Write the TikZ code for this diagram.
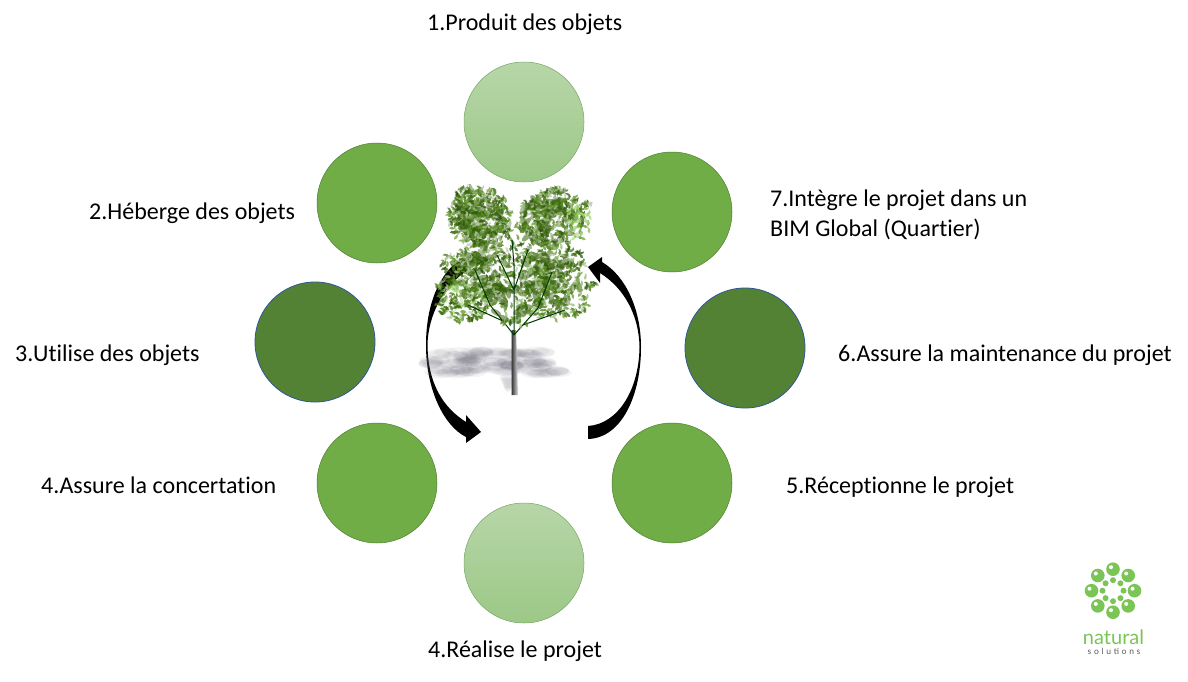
\documentclass[tikz,border=0pt]{standalone}
\usepackage{fontspec}
\setmainfont{Carlito}[Ligatures=CommonOff]
\newfontfamily\logofont{Lato}
\newfontfamily\logospaced{Lato}[LetterSpace=32]
\definecolor{midg}{HTML}{70AD47}
\definecolor{midb}{HTML}{507E32}
\definecolor{darkg}{HTML}{548235}
\definecolor{darkb}{HTML}{2F5597}
\definecolor{lightt}{HTML}{B7D6A8}
\definecolor{lightb}{HTML}{9CC887}
\definecolor{logog}{HTML}{7AC556}
\definecolor{shadowc}{HTML}{6E6C7C}
\definecolor{leafbase}{HTML}{35610C}
\tikzset{
  x=1pt,y=-1pt,
  role/.style={circle,minimum size=120pt,inner sep=0pt,draw=midb,line width=.5pt,fill=midg},
  roledark/.style={role,fill=darkg,draw=darkb,line width=.8pt},
  rolelight/.style={role,draw=lightb!85!black,top color=lightt,bottom color=lightb},
  lab/.style={anchor=base west,inner sep=0pt,font=\fontsize{24}{28}\selectfont,text=black},
  orb/.style={fill=logog,draw=none},
}
% #1 centre x, #2 y, #3 rx, #4 ry, #5 clumps, #6 palette: 0 normal, 1 bright
\newcommand{\leafcloud}[6]{%
  \foreach \i in {1,...,#5}{%
    \pgfmathsetmacro{\ang}{rnd*360}%
    \pgfmathsetmacro{\rad}{sqrt(rnd)}%
    \pgfmathsetmacro{\lx}{#1+#3*\rad*cos(\ang)}%
    \pgfmathsetmacro{\ly}{#2+#4*\rad*sin(\ang)}%
    \pgfmathsetmacro{\rot}{rnd*180}%
    \pgfmathtruncatemacro{\pick}{int(rnd*8)}%
    \ifnum#6=1
      \ifcase\pick\def\lc{A8DC78}\or\def\lc{C4E8A0}\or\def\lc{8CC850}\or\def\lc{6FA838}\or\def\lc{D4ECC0}\or\def\lc{88B860}\or\def\lc{A8DC78}\else\def\lc{5F9428}\fi
    \else
      \ifcase\pick\def\lc{3A660E}\or\def\lc{2C5408}\or\def\lc{4F7E1E}\or\def\lc{6E9E38}\or\def\lc{94BC70}\or\def\lc{3F6E12}\or\def\lc{BCC9B2}\else\def\lc{5F8F28}\fi
    \fi
    \definecolor{leafc}{HTML}{\lc}%
    \fill[leafc,opacity=.75,rotate around={\rot:(\lx,\ly)}]
      (\lx-3.4,\ly) -- (\lx-1,\ly-1.5) -- (\lx+.6,\ly-.6) -- (\lx+3.2,\ly-1) -- (\lx+2,\ly+1) -- (\lx-.8,\ly+1.4) -- cycle;
  }%
}
% darker, larger patches under the leaves
\newcommand{\leafbed}[5]{%
  \foreach \i in {1,...,#5}{%
    \pgfmathsetmacro{\ang}{rnd*360}%
    \pgfmathsetmacro{\rad}{sqrt(rnd)}%
    \pgfmathsetmacro{\lx}{#1+#3*\rad*cos(\ang)}%
    \pgfmathsetmacro{\ly}{#2+#4*\rad*sin(\ang)}%
    \pgfmathsetmacro{\rot}{rnd*180}%
    \fill[leafbase,opacity=.55] (\lx,\ly) ellipse [x radius=6,y radius=2.6,rotate=\rot];
  }%
}
\newcommand{\shadowcloud}[5]{%
  \foreach \i in {1,...,#5}{%
    \pgfmathsetmacro{\lx}{#1+#3*(2*rnd-1)}%
    \pgfmathsetmacro{\ly}{#2+#4*(2*rnd-1)}%
    \fill[shadowc,opacity=.07] (\lx,\ly) ellipse [x radius=12,y radius=4.5];
  }%
}
\begin{document}
\begin{tikzpicture}
\useasboundingbox (0,0) rectangle (1188,682);
\fill[white] (0,0) rectangle (1188,682);

% circles
\node[rolelight] (c1) at (524,122) {};
\node[role] (c2) at (377,203) {};
\node[roledark] (c3) at (315,342) {};
\node[role] (c4) at (377,483) {};
\node[rolelight] (c5) at (524,563) {};
\node[role] (c6) at (672,483) {};
\node[roledark] (c7) at (745,348) {};
\node[role] (c8) at (672,212) {};

% labels
\node[lab] (t1) at (427,31) {1.Produit des objets};
\node[lab] (t2) at (89,219) {2.Héberge des objets};
\node[lab] (t3) at (15,361) {3.Utilise des objets};
\node[lab] (t4) at (41,493) {4.Assure la concertation};
\node[lab] (t5) at (428,657) {4.Réalise le projet};
\node[lab] (t6) at (786,493) {5.Réceptionne le projet};
\node[lab] (t7) at (838,361) {6.Assure la maintenance du projet};
\node[lab] (t8a) at (770,206.5) {7.Intègre le projet dans un};
\node[lab] (t8b) at (770,236) {BIM Global (Quartier)};

% cycle arrows
\fill[black] (458,261) .. controls (436,278) and (426,310) .. (426,345)
  .. controls (426,390) and (444,426) .. (466,437) -- (466,443) -- (481,432) -- (466,415) -- (466,422)
  .. controls (444,408) and (428,385) .. (427.5,345)
  .. controls (428,315) and (444,285) .. (468,270) -- cycle;
\fill[black] (588,426) .. controls (618,424) and (639,390) .. (639.5,347)
  .. controls (639,315) and (624,288) .. (600,273) -- (600,283) -- (588,267) -- (602,257) -- (602,262)
  .. controls (626,276) and (641,310) .. (641,347)
  .. controls (641,395) and (622,438) .. (588,439) -- cycle;

% tree shadow
\pgfmathsetseed{77}
\shadowcloud{470}{354}{34}{3}{22}
\shadowcloud{456}{362}{26}{4}{26}
\shadowcloud{458}{371}{22}{3}{20}
\shadowcloud{530}{354}{22}{3}{16}
\shadowcloud{530}{364}{24}{4}{24}
\shadowcloud{545}{372}{16}{2}{12}
\shadowcloud{505}{366}{14}{6}{16}
\foreach \i in {1,...,8}{\fill[shadowc,opacity=.09] (508,376+\i*1.6) ellipse [x radius=9-\i*.7,y radius=3];}

% tree trunk
\shade[left color=black!80,right color=black!12] (511.5,330) -- (516,330) -- (518,395) -- (511.5,395) -- cycle;

% tree foliage
\pgfmathsetseed{4217}
\leafbed{482}{222}{26}{28}{70}
\leafbed{548}{222}{26}{28}{60}
\leafbed{480}{275}{32}{24}{60}
\leafbed{548}{280}{32}{26}{70}
\leafbed{514}{300}{22}{22}{25}
\leafcloud{480}{217}{32}{30}{300}{0}
\leafcloud{468}{196}{12}{10}{50}{0}
\leafcloud{552}{217}{32}{30}{260}{0}
\leafcloud{555}{197}{12}{10}{40}{0}
\leafcloud{587}{204}{4}{3}{7}{0}
\leafcloud{515}{240}{18}{22}{50}{0}
\leafcloud{578}{222}{13}{18}{45}{1}
\leafcloud{478}{268}{38}{24}{220}{0}
\leafcloud{463}{302}{26}{18}{60}{1}
\leafcloud{463}{303}{28}{19}{110}{0}
\leafcloud{552}{268}{36}{28}{210}{0}
\leafcloud{555}{302}{34}{18}{130}{0}
\leafcloud{512}{300}{20}{22}{40}{0}
\leafcloud{443}{285}{8}{5}{14}{0}
\leafcloud{590}{285}{7}{4}{10}{0}

% tree branches, seen through the leaves
\draw[black!55!green!50!black,line width=1pt,line cap=round]
  (514,335) -- (490,305) -- (475,270)
  (514,335) -- (538,308) -- (552,272)
  (514,335) -- (514,265) -- (512,240)
  (505,322) -- (468,305)
  (523,325) -- (565,310)
  (514,290) -- (497,255)
  (514,290) -- (528,250);
\leafcloud{513}{325}{14}{6}{10}{0}

% logo
\foreach \a in {0,45,...,315}{
  \fill[orb] (1113,590.7) ++(\a:21.5) circle (6.8);
  \fill[white] (1113,590.7) ++(\a:21.5) ++(-2,-2) circle (2);
  \fill[orb] (1113,590.7) ++(\a:10.5) circle (3);
}
\node[anchor=base,inner sep=0pt,text=logog,font=\logofont\fontsize{20}{22}\selectfont] (l1) at (1113.5,644) {natural};
\node[anchor=base,inner sep=0pt,text=black!65,font=\logospaced\fontsize{8.5}{10}\selectfont] (l2) at (1114,654) {solutions};
\end{tikzpicture}
\end{document}
